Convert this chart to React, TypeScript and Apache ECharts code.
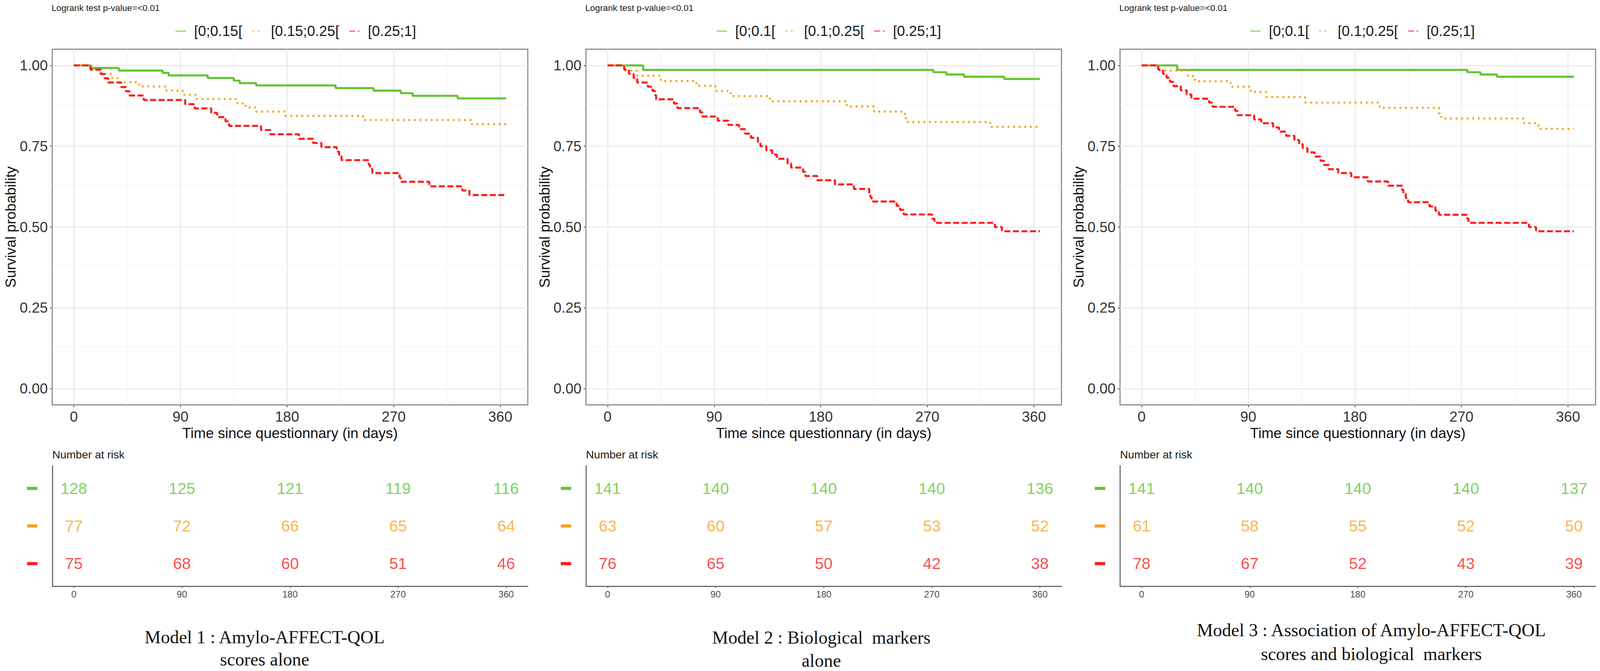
import React, { useEffect, useRef } from 'react';
import * as echarts from 'echarts';

// ---------------- DATA ----------------
const X_TICKS = [0, 90, 180, 270, 360];
const X_MINOR = [45, 135, 225, 315];
const Y_TICKS = [0, 0.25, 0.5, 0.75, 1];
const Y_MINOR = [0.125, 0.375, 0.625, 0.875];
const RISK_TIMES = [0, 90, 180, 270, 360];

const P1_LABELS = ['[0;0.15[', '[0.15;0.25[', '[0.25;1]'];
const P2_LABELS = ['[0;0.1[', '[0.1;0.25[', '[0.25;1]'];
const P3_LABELS = ['[0;0.1[', '[0.1;0.25[', '[0.25;1]'];

const P1_CAPTION = ['Model 1 : Amylo-AFFECT-QOL', 'scores alone'];
const P2_CAPTION = ['Model 2 : Biological  markers', 'alone'];
const P3_CAPTION = ['Model 3 : Association of Amylo-AFFECT-QOL', 'scores and biological  markers'];

// Model 1
const P1_GREEN_T = [0, 14, 38, 75, 80, 113, 135, 140, 154, 221, 253, 276, 286, 324, 365];
const P1_GREEN_S = [1, 0.992, 0.984, 0.977, 0.969, 0.961, 0.953, 0.945, 0.938, 0.93, 0.922, 0.914, 0.906, 0.898, 0.898];
const P1_ORANGE_T = [0, 15, 22, 31, 37, 55, 77, 92, 104, 138, 145, 154, 178, 244, 336, 365];
const P1_ORANGE_S = [1, 0.987, 0.974, 0.961, 0.948, 0.935, 0.922, 0.909, 0.896, 0.883, 0.87, 0.857, 0.844, 0.831, 0.818, 0.818];
const P1_RED_T = [0, 14, 23, 26, 29, 40, 44, 47, 59, 94, 102, 116, 121, 128, 131, 158, 166, 190, 202, 209, 222, 224, 226, 249, 250, 252, 275, 276, 300, 328, 334, 365];
const P1_RED_S = [1, 0.987, 0.973, 0.96, 0.947, 0.933, 0.92, 0.907, 0.893, 0.88, 0.867, 0.853, 0.84, 0.827, 0.813, 0.8, 0.787, 0.773, 0.76, 0.747, 0.733, 0.72, 0.707, 0.693, 0.68, 0.667, 0.653, 0.64, 0.626, 0.613, 0.599, 0.599];
const P1_RISK_GREEN = [128, 125, 121, 119, 116];
const P1_RISK_ORANGE = [77, 72, 66, 65, 64];
const P1_RISK_RED = [75, 68, 60, 51, 46];

// Model 2
const P2_GREEN_T = [0, 30, 275, 286, 301, 335, 365];
const P2_GREEN_S = [1, 0.986, 0.979, 0.972, 0.965, 0.958, 0.958];
const P2_ORANGE_T = [0, 15, 25, 45, 75, 91, 104, 137, 202, 225, 251, 252, 323, 365];
const P2_ORANGE_S = [1, 0.984, 0.968, 0.952, 0.937, 0.921, 0.905, 0.889, 0.873, 0.857, 0.841, 0.825, 0.81, 0.81];
const P2_RED_T = [0, 14, 18, 22, 25, 34, 38, 40, 41, 56, 59, 78, 80, 93, 102, 111, 116, 121, 127, 129, 134, 139, 143, 152, 155, 165, 167, 177, 192, 208, 221, 222, 223, 244, 247, 250, 274, 276, 327, 333, 365];
const P2_RED_S = [1, 0.987, 0.974, 0.961, 0.947, 0.934, 0.921, 0.908, 0.895, 0.882, 0.868, 0.855, 0.842, 0.829, 0.816, 0.803, 0.789, 0.776, 0.763, 0.75, 0.737, 0.724, 0.711, 0.697, 0.684, 0.671, 0.658, 0.645, 0.632, 0.618, 0.605, 0.592, 0.579, 0.566, 0.553, 0.539, 0.526, 0.513, 0.5, 0.487, 0.487];
const P2_RISK_GREEN = [141, 140, 140, 140, 136];
const P2_RISK_ORANGE = [63, 60, 57, 53, 52];
const P2_RISK_RED = [76, 65, 50, 42, 38];

// Model 3
const P3_GREEN_T = [0, 30, 275, 286, 300, 365];
const P3_GREEN_S = [1, 0.986, 0.979, 0.972, 0.965, 0.965];
const P3_ORANGE_T = [0, 15, 39, 45, 75, 92, 105, 138, 201, 251, 253, 323, 335, 365];
const P3_ORANGE_S = [1, 0.984, 0.967, 0.951, 0.934, 0.918, 0.902, 0.885, 0.869, 0.852, 0.836, 0.821, 0.804, 0.804];
const P3_RED_T = [0, 14, 18, 21, 24, 27, 33, 38, 42, 57, 60, 79, 81, 95, 101, 111, 116, 122, 129, 133, 136, 140, 146, 151, 154, 158, 166, 177, 191, 208, 220, 221, 223, 225, 243, 248, 251, 275, 276, 327, 333, 365];
const P3_RED_S = [1, 0.987, 0.974, 0.962, 0.949, 0.936, 0.923, 0.91, 0.897, 0.885, 0.872, 0.859, 0.846, 0.833, 0.821, 0.808, 0.795, 0.782, 0.769, 0.756, 0.744, 0.731, 0.718, 0.705, 0.692, 0.679, 0.667, 0.654, 0.641, 0.628, 0.615, 0.603, 0.59, 0.577, 0.564, 0.551, 0.538, 0.526, 0.513, 0.5, 0.487, 0.487];
const P3_RISK_GREEN = [141, 140, 140, 140, 137];
const P3_RISK_ORANGE = [61, 58, 55, 52, 50];
const P3_RISK_RED = [78, 67, 52, 43, 39];

// ---------------- STYLE / LAYOUT ----------------
const W = 4317;
const H = 1717;
const GREEN = '#5ec52c';
const ORANGE = '#f6a21c';
const RED = '#fc1c1c';
const SANS = 'Liberation Sans';
const SERIF = 'Liberation Serif';

const PANELS = [
  {
    left: 141, legendLeft: 467, labels: P1_LABELS, caption: P1_CAPTION, capX: 714, capY: [1630, 1687],
    curves: [[P1_GREEN_T, P1_GREEN_S], [P1_ORANGE_T, P1_ORANGE_S], [P1_RED_T, P1_RED_S]],
    risk: [P1_RISK_GREEN, P1_RISK_ORANGE, P1_RISK_RED],
  },
  {
    left: 1581, legendLeft: 1927, labels: P2_LABELS, caption: P2_CAPTION, capX: 2216, capY: [1631, 1690],
    curves: [[P2_GREEN_T, P2_GREEN_S], [P2_ORANGE_T, P2_ORANGE_S], [P2_RED_T, P2_RED_S]],
    risk: [P2_RISK_GREEN, P2_RISK_ORANGE, P2_RISK_RED],
  },
  {
    left: 3022, legendLeft: 3367, labels: P3_LABELS, caption: P3_CAPTION, capX: 3700, capY: [1612, 1673],
    curves: [[P3_GREEN_T, P3_GREEN_S], [P3_ORANGE_T, P3_ORANGE_S], [P3_RED_T, P3_RED_S]],
    risk: [P3_RISK_GREEN, P3_RISK_ORANGE, P3_RISK_RED],
  },
];

const PLOT_W = 1283;
const PLOT_TOP = 126;
const PLOT_H = 910;
const RISK_TOP = 1192;
const RISK_H = 308;

const COLORS = [GREEN, ORANGE, RED];
const RISK_ROWS = [3, 2, 1];

function buildOption(sx: number, sy: number) {
  const s = Math.min(sx, sy);
  const X = (v: number) => v * sx;
  const Y = (v: number) => v * sy;
  const F = (v: number) => v * s;
  const lineTypes: any[] = ['solid', [F(5), F(10)], [F(16), F(7)]];

  const grid: any[] = [];
  const xAxis: any[] = [];
  const yAxis: any[] = [];
  const legend: any[] = [];
  const series: any[] = [];
  const graphic: any[] = [];

  PANELS.forEach((p, pi) => {
    const gPlot = pi * 2;
    const gRisk = pi * 2 + 1;
    grid.push({
      left: X(p.left), top: Y(PLOT_TOP), width: X(PLOT_W), height: Y(PLOT_H),
      show: true, borderColor: '#8a8a8a', borderWidth: F(3), backgroundColor: '#ffffff',
      containLabel: false, outerBoundsMode: 'none',
    });
    grid.push({
      left: X(p.left), top: Y(RISK_TOP), width: X(PLOT_W), height: Y(RISK_H),
      show: false, containLabel: false, outerBoundsMode: 'none',
    });

    xAxis.push({
      type: 'value', gridIndex: gPlot, min: -18.25, max: 383.25,
      name: 'Time since questionnary (in days)', nameLocation: 'middle', nameGap: Y(47),
      nameTextStyle: { fontSize: F(39), color: '#111', fontFamily: SANS },
      axisLine: { show: false, onZero: false },
      axisTick: { show: true, customValues: X_TICKS, length: Y(6), lineStyle: { color: '#444', width: F(2) } },
      axisLabel: { show: true, customValues: X_TICKS, fontSize: F(39), color: '#333', margin: Y(12), fontFamily: SANS },
      splitLine: { show: false },
    });
    xAxis.push({
      type: 'value', gridIndex: gRisk, min: -18, max: 378,
      axisLine: { show: true, onZero: false, lineStyle: { color: '#6a6a6a', width: F(3) } },
      axisTick: { show: true, customValues: X_TICKS, length: Y(5), lineStyle: { color: '#6a6a6a', width: F(2) } },
      axisLabel: { show: true, customValues: X_TICKS, fontSize: F(25), color: '#4d4d4d', margin: Y(9), fontFamily: SANS },
      splitLine: { show: false },
    });

    yAxis.push({
      type: 'value', gridIndex: gPlot, min: -0.05, max: 1.05,
      name: 'Survival probability', nameLocation: 'middle', nameGap: X(92),
      nameTextStyle: { fontSize: F(39), color: '#111', fontFamily: SANS },
      axisLine: { show: false, onZero: false },
      axisTick: { show: true, customValues: Y_TICKS, length: X(6), lineStyle: { color: '#444', width: F(2) } },
      axisLabel: {
        show: true, customValues: Y_TICKS, fontSize: F(39), color: '#333', margin: X(12), fontFamily: SANS,
        formatter: (v: number) => v.toFixed(2),
      },
      splitLine: { show: false },
    });
    yAxis.push({
      type: 'value', gridIndex: gRisk, min: 0.4, max: 3.6,
      axisLine: { show: true, onZero: false, lineStyle: { color: '#6a6a6a', width: F(3) } },
      axisTick: { show: false },
      axisLabel: {
        show: true, customValues: RISK_ROWS, margin: X(40),
        formatter: (v: number) => (v === 3 ? '{g| }' : v === 2 ? '{o| }' : '{r| }'),
        rich: {
          g: { backgroundColor: GREEN, width: X(28), height: Y(8) },
          o: { backgroundColor: ORANGE, width: X(28), height: Y(8) },
          r: { backgroundColor: RED, width: X(28), height: Y(8) },
        },
      },
      splitLine: { show: false },
    });

    legend.push({
      data: p.labels,
      left: X(p.legendLeft), top: Y(56),
      orient: 'horizontal',
      itemWidth: X(28), itemHeight: Y(14), itemGap: X(26),
      itemStyle: { opacity: 0 },
      textStyle: { fontSize: F(39), color: '#1a1a1a', fontFamily: SANS, padding: [0, 0, 0, X(17)] },
      selectedMode: false,
    });

    const gridData: any[] = [
      ...X_MINOR.map((v) => ({ xAxis: v, lineStyle: { color: '#f3f3f3', width: F(1.6), type: 'solid' } })),
      ...Y_MINOR.map((v) => ({ yAxis: v, lineStyle: { color: '#f3f3f3', width: F(1.6), type: 'solid' } })),
      ...X_TICKS.map((v) => ({ xAxis: v, lineStyle: { color: '#e8e8e8', width: F(2.6), type: 'solid' } })),
      ...Y_TICKS.map((v) => ({ yAxis: v, lineStyle: { color: '#e8e8e8', width: F(2.6), type: 'solid' } })),
    ];

    p.curves.forEach((c, ci) => {
      const [T, S] = c;
      const ser: any = {
        type: 'line',
        name: p.labels[ci],
        xAxisIndex: gPlot, yAxisIndex: gPlot,
        step: 'end',
        symbol: 'none', showSymbol: false,
        data: T.map((t: number, i: number) => [t, S[i]]),
        lineStyle: { color: COLORS[ci], width: F(5.5), type: lineTypes[ci], cap: 'butt' },
        itemStyle: { color: COLORS[ci] },
        z: 3,
        silent: true,
      };
      if (ci === 0) {
        ser.markLine = {
          silent: true, symbol: ['none', 'none'], z: 1,
          label: { show: false },
          lineStyle: { type: 'solid' },
          emphasis: { disabled: true },
          data: gridData,
        };
      }
      series.push(ser);
    });

    p.risk.forEach((vals, ri) => {
      series.push({
        type: 'scatter',
        name: 'risk-' + pi + '-' + ri,
        xAxisIndex: gRisk, yAxisIndex: gRisk,
        symbolSize: 1,
        itemStyle: { color: 'rgba(0,0,0,0)' },
        silent: true,
        data: RISK_TIMES.map((t, i) => [t, RISK_ROWS[ri], vals[i]]),
        label: {
          show: true, position: 'inside',
          formatter: (d: any) => String(d.value[2]),
          color: COLORS[ri], fontSize: F(43), fontFamily: SANS,
        },
      });
    });

    graphic.push({
      type: 'text', x: X(p.left - 2), y: Y(20),
      style: { text: 'Logrank test p-value=<0.01', fontSize: F(24), fontFamily: SANS, fill: '#1a1a1a', align: 'left', verticalAlign: 'middle' },
    });
    graphic.push({
      type: 'text', x: X(p.left), y: Y(1163),
      style: { text: 'Number at risk', fontSize: F(30), fontFamily: SANS, fill: '#1a1a1a', align: 'left', verticalAlign: 'middle' },
    });
    p.caption.forEach((line, li) => {
      graphic.push({
        type: 'text', x: X(p.capX), y: Y(p.capY[li]),
        style: { text: line, fontSize: F(49), fontFamily: SERIF, fill: '#111', align: 'center', verticalAlign: 'middle' },
      });
    });
  });

  return {
    animation: false,
    backgroundColor: '#ffffff',
    textStyle: { fontFamily: SANS },
    grid, xAxis, yAxis, legend, series, graphic,
  };
}

export default function App() {
  const ref = useRef<HTMLDivElement>(null);
  useEffect(() => {
    document.body.style.margin = '0';
    document.body.style.overflow = 'hidden';
    document.documentElement.style.overflow = 'hidden';
    const el = ref.current;
    if (!el) return;
    const cw = el.clientWidth || W;
    const ch = el.clientHeight || H;
    const chart = echarts.init(el, undefined, { renderer: 'svg', width: cw, height: ch });
    chart.setOption(buildOption(cw / W, ch / H) as any);
    return () => chart.dispose();
  }, []);
  return <div ref={ref} style={{ width: '100vw', height: '100vh', overflow: 'hidden' }} />;
}
